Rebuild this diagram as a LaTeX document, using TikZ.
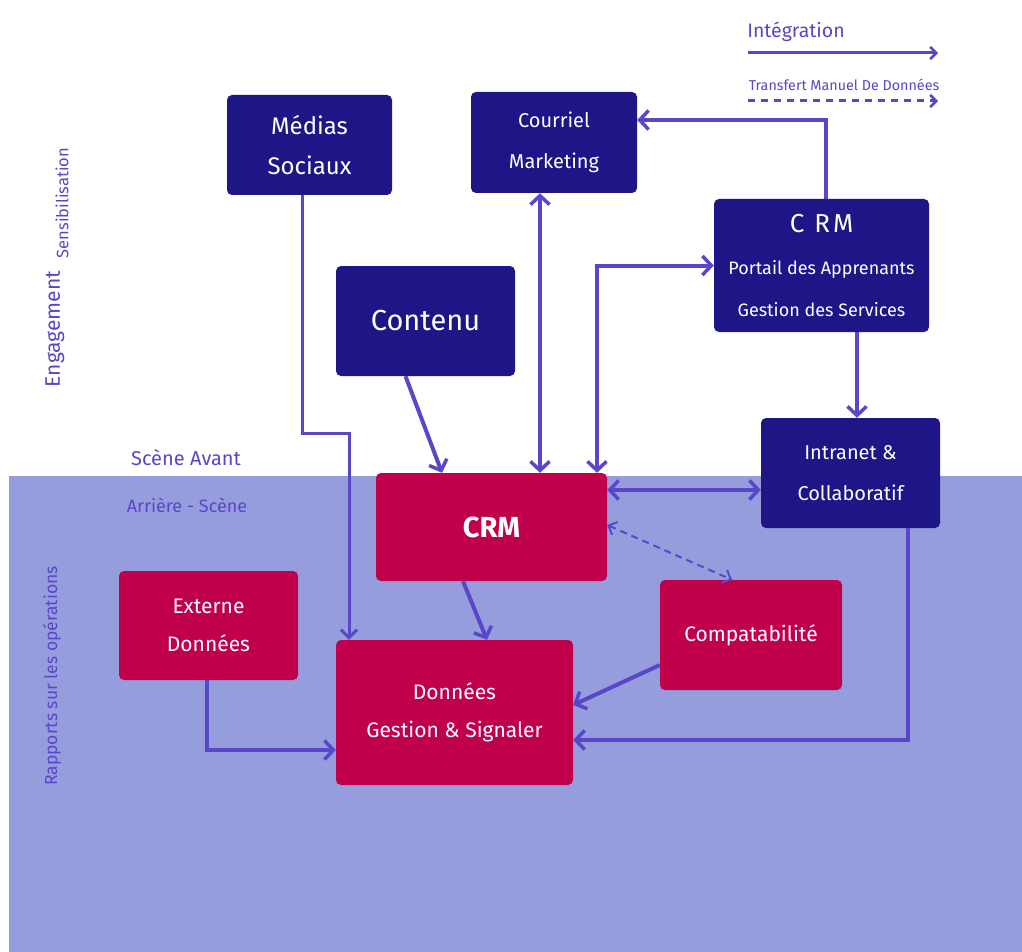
\documentclass[tikz,border=0pt]{standalone}
\usepackage{fontspec}
\setmainfont{Fira Sans}
\usetikzlibrary{arrows.meta}
\definecolor{navy}{HTML}{1E1587}
\definecolor{crim}{HTML}{C1004C}
\definecolor{arrc}{HTML}{5A46C9}
\definecolor{lav}{HTML}{969DDC}
\tikzset{
  x=1pt, y=-1pt,
  box/.style={rounded corners=5pt, inner sep=0pt, text=white, align=center},
  bluebox/.style={box, fill=navy},
  redbox/.style={box, fill=crim},
  arr/.style={draw=arrc, line width=4pt, -{Straight Barb[length=9pt,width=19pt,line width=3.5pt]}},
  arrthin/.style={draw=arrc, line width=3pt, -{Straight Barb[length=8pt,width=16pt,line width=3pt]}},
  arrboth/.style={draw=arrc, line width=4pt, {Straight Barb[length=9pt,width=19pt,line width=3.5pt]}-{Straight Barb[length=9pt,width=19pt,line width=3.5pt]}},
  dasharr/.style={draw=arrc, line width=2pt, dash pattern=on 7pt off 5pt, {Straight Barb[length=7pt,width=14pt,line width=2pt]}-{Straight Barb[length=7pt,width=14pt,line width=2pt]}},
  lbl/.style={text=arrc, inner sep=0pt},
}
\begin{document}
\begin{tikzpicture}
\fill[white] (0,0) rectangle (1022,952);
\useasboundingbox (0,0) rectangle (1022,952);
\fill[lav] (9,476) rectangle (1022,952);

% nodes
\node[bluebox, minimum width=165pt, minimum height=100pt, font=\fontsize{24}{40}\selectfont] (medias) at (309.5,145) {Médias\\Sociaux};
\node[bluebox, minimum width=166pt, minimum height=101pt, font=\fontsize{20}{41}\selectfont] (courriel) at (554,142.5) {Courriel\\Marketing};
\node[bluebox, minimum width=215pt, minimum height=133pt, font=\fontsize{18}{42}\selectfont] (portal) at (821.5,265.5) {{\fontsize{26}{42}\selectfont C\hspace{10pt}R\hspace{3pt}M}\\Portail des Apprenants\\Gestion des Services};
\node[bluebox, minimum width=179pt, minimum height=110pt, font=\fontsize{29}{36}\selectfont] (contenu) at (425.5,321) {Contenu};
\node[bluebox, minimum width=179pt, minimum height=110pt, font=\fontsize{20}{41}\selectfont] (intranet) at (850.5,473) {Intranet \&\\Collaboratif};
\node[redbox, minimum width=231pt, minimum height=108pt, font=\fontsize{29}{36}\selectfont\bfseries] (crm) at (491.5,527) {CRM};
\node[redbox, minimum width=179pt, minimum height=109pt, font=\fontsize{21}{38}\selectfont] (externe) at (208.5,625.5) {Externe\\Données};
\node[redbox, minimum width=182pt, minimum height=110pt, font=\fontsize{21}{36}\selectfont] (compat) at (751,635) {Compatabilité};
\node[redbox, minimum width=237pt, minimum height=145pt, font=\fontsize{21}{38}\selectfont] (donnees) at (454.5,712.5) {Données\\Gestion \& Signaler};

% labels
\node[lbl, font=\fontsize{19.5}{20}\selectfont] (integ) at (796,32) {Intégration};
\node[lbl, font=\fontsize{14.3}{16}\selectfont] (transf) at (844,85) {Transfert Manuel De Données};
\node[lbl, font=\fontsize{20}{22}\selectfont] (avant) at (186,458) {Scène Avant};
\node[lbl, font=\fontsize{18}{20}\selectfont] (arriere) at (187,505) {Arrière - Scène};
\node[lbl, rotate=90, font=\fontsize{21}{24}\selectfont] (engage) at (55,329) {Engagement};
\node[lbl, rotate=90, font=\fontsize{16.5}{18}\selectfont] (sensib) at (62,203) {Sensibilisation};
\node[lbl, rotate=90, font=\fontsize{17.5}{18}\selectfont] (rapports) at (52,676) {Rapports sur les opérations};

% legend
\coordinate (l1a) at (748,53);
\coordinate (l1b) at (938,53);
\coordinate (l2a) at (748,101);
\coordinate (l2b) at (938,101);
\draw[draw=arrc, line width=3pt, -{Straight Barb[length=6pt,width=12pt,line width=2.5pt]}] (l1a) -- (l1b);
\draw[draw=arrc, line width=3pt, dash pattern=on 7pt off 6pt, -{Straight Barb[length=6pt,width=12pt,line width=2.5pt]}] (l2a) -- (l2b);

% connectors
\draw[arrthin] ([xshift=-7.5pt]medias.south) -- ++(0,238) -| ([xshift=-105.5pt]donnees.north);
\draw[arr] ([xshift=-20pt]contenu.south) -- ([xshift=-49.5pt]crm.north);
\draw[arrboth] ([xshift=-14pt]courriel.south) -- ([xshift=48.5pt]crm.north);
\draw[arrboth] ([xshift=105.5pt]crm.north) |- (portal.west);
\draw[arr] ([xshift=4.5pt]portal.north) |- ([yshift=22.5pt]courriel.east);
\draw[arr] ([xshift=35.5pt]portal.south) -- ([xshift=35.5pt]portal.south |- intranet.north);
\draw[arrboth] ([yshift=37pt]crm.east) -- ([yshift=-17pt]intranet.west);
\draw[dasharr] ([yshift=2pt]crm.east) -- ([xshift=-19pt]compat.north);
\draw[arr] ([xshift=-28.5pt]crm.south) -- ([xshift=32.5pt]donnees.north);
\draw[arr] ([yshift=-30pt]compat.west) -- ([yshift=7.5pt]donnees.east);
\draw[arr] ([xshift=57.5pt]intranet.south) |- ([yshift=-27.5pt]donnees.east);
\draw[arr] ([xshift=-1.5pt]externe.south) |- ([yshift=-37.5pt]donnees.west);
\end{tikzpicture}
\end{document}
